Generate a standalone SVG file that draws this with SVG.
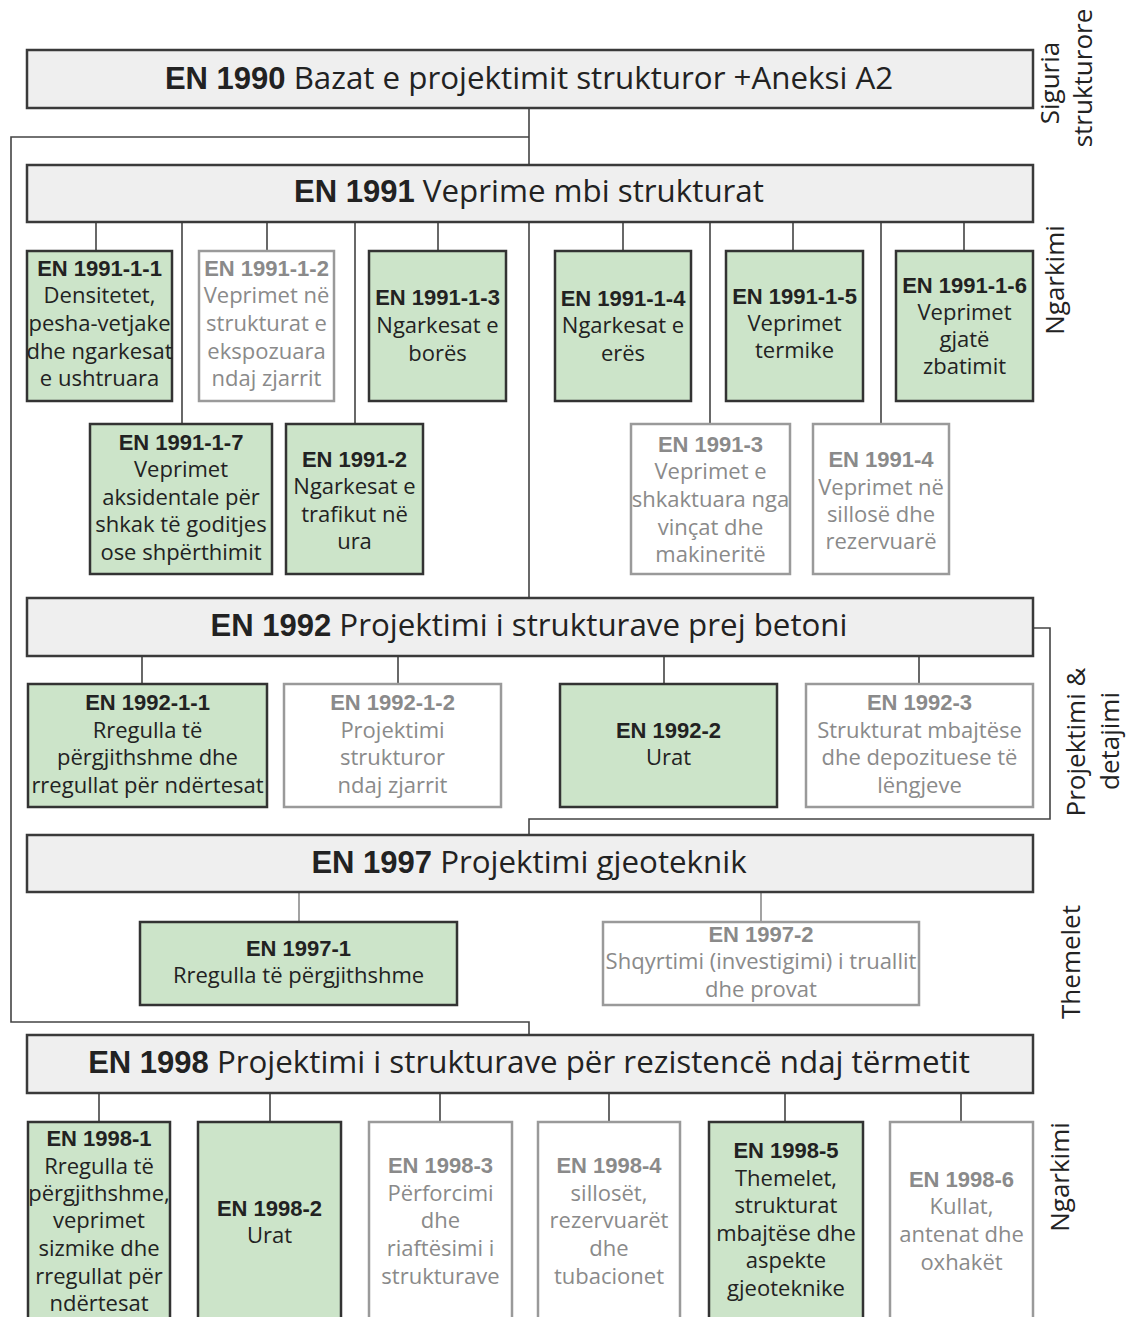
<svg xmlns="http://www.w3.org/2000/svg" width="1128" height="1317" viewBox="0 0 1128 1317">
<style>
.hdr{fill:#efefef;stroke:#3a3a3a;stroke-width:2.5}
.grn{fill:#cce4c9;stroke:#333;stroke-width:2.5}
.gry{fill:#fff;stroke:#9a9a9a;stroke-width:2.5}
.ht{font-family:"Open Sans",sans-serif;font-size:31.3px;fill:#222;text-anchor:middle}
.hb{font-family:"Liberation Sans",Arial,sans-serif;font-weight:bold;font-size:31px}
text.n{font-family:"Open Sans",sans-serif;font-size:22px;text-anchor:middle}
.g text.n{fill:#222}
.w text.n{fill:#8a8a8a}
.b{font-family:"Liberation Sans",Arial,sans-serif;font-weight:bold;font-size:22px}
.lab{font-family:"Open Sans",sans-serif;font-size:26px;fill:#222;text-anchor:middle}
.con{fill:none;stroke:#444;stroke-width:1.6}
.con2{fill:none;stroke:#666;stroke-width:1.2}
</style>

<g id="connectors">
<path class="con" d="M529 108V165M529 137H11V1022H529V1035"/>
<path class="con" d="M96 222V251M267 222V251M438 222V251M623 222V251M793 222V251M964 222V251"/>
<path class="con" d="M182 222V424M355 222V424M710 222V424M881 222V424M529 222V598"/>
<path class="con" d="M1033 628H1050V819H529V835"/>
<path class="con" d="M142 656V684M398 656V684M664 656V684M919 656V684"/>
<path class="con2" d="M299 892V922M761 892V922"/>
<path class="con" d="M99 1093V1122M270 1093V1122M440 1093V1122M609 1093V1122M785 1093V1122M961 1093V1122"/>
</g>

<g id="en1990">
<rect class="hdr" x="27" y="50" width="1006" height="58"/>
<text class="ht" x="529" y="89"><tspan class="hb">EN 1990</tspan> Bazat e projektimit strukturor +Aneksi A2</text>
</g>
<g id="en1991">
<rect class="hdr" x="27" y="165" width="1006" height="57"/>
<text class="ht" x="529" y="202"><tspan class="hb">EN 1991</tspan> Veprime mbi strukturat</text>
</g>

<g id="en1991-1-1" class="g">
<rect class="grn" x="27" y="251" width="145" height="150"/>
<text class="n" x="99.5" y="276"><tspan class="b">EN 1991-1-1</tspan><tspan x="99.5" y="303">Densitetet,</tspan><tspan x="99.5" y="331">pesha-vetjake</tspan><tspan x="99.5" y="359">dhe ngarkesat</tspan><tspan x="99.5" y="386">e ushtruara</tspan></text>
</g>
<g id="en1991-1-2" class="w">
<rect class="gry" x="199" y="251" width="135" height="150"/>
<text class="n" x="266.5" y="276"><tspan class="b">EN 1991-1-2</tspan><tspan x="266.5" y="303">Veprimet në</tspan><tspan x="266.5" y="331">strukturat e</tspan><tspan x="266.5" y="359">ekspozuara</tspan><tspan x="266.5" y="386">ndaj zjarrit</tspan></text>
</g>
<g id="en1991-1-3" class="g">
<rect class="grn" x="369" y="251" width="137" height="150"/>
<text class="n" x="437.5" y="305"><tspan class="b">EN 1991-1-3</tspan><tspan x="437.5" y="333">Ngarkesat e</tspan><tspan x="437.5" y="361">borës</tspan></text>
</g>
<g id="en1991-1-4" class="g">
<rect class="grn" x="555" y="251" width="136" height="150"/>
<text class="n" x="623" y="306"><tspan class="b">EN 1991-1-4</tspan><tspan x="623" y="333">Ngarkesat e</tspan><tspan x="623" y="361">erës</tspan></text>
</g>
<g id="en1991-1-5" class="g">
<rect class="grn" x="726" y="251" width="137" height="150"/>
<text class="n" x="794.5" y="304"><tspan class="b">EN 1991-1-5</tspan><tspan x="794.5" y="331">Veprimet</tspan><tspan x="794.5" y="358">termike</tspan></text>
</g>
<g id="en1991-1-6" class="g">
<rect class="grn" x="896" y="251" width="137" height="150"/>
<text class="n" x="964.5" y="293"><tspan class="b">EN 1991-1-6</tspan><tspan x="964.5" y="320">Veprimet</tspan><tspan x="964.5" y="347">gjatë</tspan><tspan x="964.5" y="374">zbatimit</tspan></text>
</g>
<g id="en1991-1-7" class="g">
<rect class="grn" x="90" y="424" width="182" height="150"/>
<text class="n" x="181" y="450"><tspan class="b">EN 1991-1-7</tspan><tspan x="181" y="477">Veprimet</tspan><tspan x="181" y="505">aksidentale për</tspan><tspan x="181" y="532">shkak të goditjes</tspan><tspan x="181" y="560">ose shpërthimit</tspan></text>
</g>
<g id="en1991-2" class="g">
<rect class="grn" x="286" y="424" width="137" height="150"/>
<text class="n" x="354.5" y="467"><tspan class="b">EN 1991-2</tspan><tspan x="354.5" y="494">Ngarkesat e</tspan><tspan x="354.5" y="522">trafikut në</tspan><tspan x="354.5" y="549">ura</tspan></text>
</g>
<g id="en1991-3" class="w">
<rect class="gry" x="631" y="424" width="159" height="150"/>
<text class="n" x="710.5" y="452"><tspan class="b">EN 1991-3</tspan><tspan x="710.5" y="479">Veprimet e</tspan><tspan x="710.5" y="507">shkaktuara nga</tspan><tspan x="710.5" y="535">vinçat dhe</tspan><tspan x="710.5" y="562">makineritë</tspan></text>
</g>
<g id="en1991-4" class="w">
<rect class="gry" x="813" y="424" width="136" height="150"/>
<text class="n" x="881" y="467"><tspan class="b">EN 1991-4</tspan><tspan x="881" y="495">Veprimet në</tspan><tspan x="881" y="522">sillosë dhe</tspan><tspan x="881" y="549">rezervuarë</tspan></text>
</g>

<g id="en1992">
<rect class="hdr" x="27" y="598" width="1006" height="58"/>
<text class="ht" x="529" y="636"><tspan class="hb">EN 1992</tspan> Projektimi i strukturave prej betoni</text>
</g>
<g id="en1992-1-1" class="g">
<rect class="grn" x="28" y="684" width="239" height="123"/>
<text class="n" x="147.5" y="710"><tspan class="b">EN 1992-1-1</tspan><tspan x="147.5" y="738">Rregulla të</tspan><tspan x="147.5" y="765">përgjithshme dhe</tspan><tspan x="147.5" y="793">rregullat për ndërtesat</tspan></text>
</g>
<g id="en1992-1-2" class="w">
<rect class="gry" x="284" y="684" width="217" height="123"/>
<text class="n" x="392.5" y="710"><tspan class="b">EN 1992-1-2</tspan><tspan x="392.5" y="738">Projektimi</tspan><tspan x="392.5" y="765">strukturor</tspan><tspan x="392.5" y="793">ndaj zjarrit</tspan></text>
</g>
<g id="en1992-2" class="g">
<rect class="grn" x="560" y="684" width="217" height="123"/>
<text class="n" x="668.5" y="738"><tspan class="b">EN 1992-2</tspan><tspan x="668.5" y="765">Urat</tspan></text>
</g>
<g id="en1992-3" class="w">
<rect class="gry" x="806" y="684" width="227" height="123"/>
<text class="n" x="919.5" y="710"><tspan class="b">EN 1992-3</tspan><tspan x="919.5" y="738">Strukturat mbajtëse</tspan><tspan x="919.5" y="765">dhe depozituese të</tspan><tspan x="919.5" y="793">lëngjeve</tspan></text>
</g>

<g id="en1997">
<rect class="hdr" x="27" y="835" width="1006" height="57"/>
<text class="ht" x="529" y="873"><tspan class="hb">EN 1997</tspan> Projektimi gjeoteknik</text>
</g>
<g id="en1997-1" class="g">
<rect class="grn" x="140" y="922" width="317" height="83"/>
<text class="n" x="298.5" y="956"><tspan class="b">EN 1997-1</tspan><tspan x="298.5" y="983">Rregulla të përgjithshme</tspan></text>
</g>
<g id="en1997-2" class="w">
<rect class="gry" x="603" y="922" width="316" height="83"/>
<text class="n" x="761" y="942"><tspan class="b">EN 1997-2</tspan><tspan x="761" y="969">Shqyrtimi (investigimi) i truallit</tspan><tspan x="761" y="997">dhe provat</tspan></text>
</g>

<g id="en1998">
<rect class="hdr" x="27" y="1035" width="1006" height="58"/>
<text class="ht" x="529" y="1073"><tspan class="hb">EN 1998</tspan> Projektimi i strukturave për rezistencë ndaj tërmetit</text>
</g>
<g id="en1998-1" class="g">
<rect class="grn" x="28" y="1122" width="142" height="215"/>
<text class="n" x="99" y="1146"><tspan class="b">EN 1998-1</tspan><tspan x="99" y="1174">Rregulla të</tspan><tspan x="99" y="1201">përgjithshme,</tspan><tspan x="99" y="1228">veprimet</tspan><tspan x="99" y="1256">sizmike dhe</tspan><tspan x="99" y="1284">rregullat për</tspan><tspan x="99" y="1311">ndërtesat</tspan></text>
</g>
<g id="en1998-2" class="g">
<rect class="grn" x="198" y="1122" width="143" height="215"/>
<text class="n" x="269.5" y="1216"><tspan class="b">EN 1998-2</tspan><tspan x="269.5" y="1243">Urat</tspan></text>
</g>
<g id="en1998-3" class="w">
<rect class="gry" x="369" y="1122" width="143" height="215"/>
<text class="n" x="440.5" y="1173"><tspan class="b">EN 1998-3</tspan><tspan x="440.5" y="1201">Përforcimi</tspan><tspan x="440.5" y="1228">dhe</tspan><tspan x="440.5" y="1256">riaftësimi i</tspan><tspan x="440.5" y="1284">strukturave</tspan></text>
</g>
<g id="en1998-4" class="w">
<rect class="gry" x="538" y="1122" width="142" height="215"/>
<text class="n" x="609" y="1173"><tspan class="b">EN 1998-4</tspan><tspan x="609" y="1201">sillosët,</tspan><tspan x="609" y="1228">rezervuarët</tspan><tspan x="609" y="1256">dhe</tspan><tspan x="609" y="1284">tubacionet</tspan></text>
</g>
<g id="en1998-5" class="g">
<rect class="grn" x="709" y="1122" width="154" height="215"/>
<text class="n" x="786" y="1158"><tspan class="b">EN 1998-5</tspan><tspan x="786" y="1186">Themelet,</tspan><tspan x="786" y="1213">strukturat</tspan><tspan x="786" y="1241">mbajtëse dhe</tspan><tspan x="786" y="1268">aspekte</tspan><tspan x="786" y="1296">gjeoteknike</tspan></text>
</g>
<g id="en1998-6" class="w">
<rect class="gry" x="890" y="1122" width="143" height="215"/>
<text class="n" x="961.5" y="1187"><tspan class="b">EN 1998-6</tspan><tspan x="961.5" y="1214">Kullat,</tspan><tspan x="961.5" y="1242">antenat dhe</tspan><tspan x="961.5" y="1270">oxhakët</tspan></text>
</g>

<g id="labels">
<text class="lab" transform="translate(1059,83) rotate(-90)">Siguria</text>
<text class="lab" transform="translate(1092,78) rotate(-90)">strukturore</text>
<text class="lab" transform="translate(1064,280) rotate(-90)">Ngarkimi</text>
<text class="lab" transform="translate(1085,742) rotate(-90)">Projektimi &amp;</text>
<text class="lab" transform="translate(1119,741) rotate(-90)">detajimi</text>
<text class="lab" transform="translate(1080,962) rotate(-90)">Themelet</text>
<text class="lab" transform="translate(1069,1177) rotate(-90)">Ngarkimi</text>
</g>
</svg>
